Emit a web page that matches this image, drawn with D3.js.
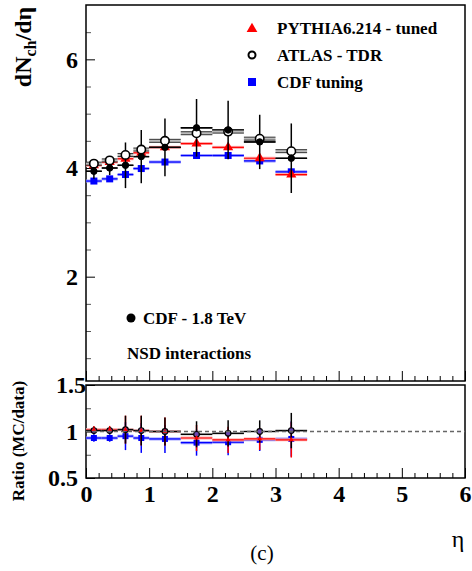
<!DOCTYPE html>
<html><head><meta charset="utf-8">
<script src="https://cdn.jsdelivr.net/npm/d3@7"></script>
<style>
body{margin:0;background:#fff;}
svg{display:block;}
</style></head>
<body><svg id="c" width="472" height="571"></svg>
<script>
// ---- data ----
const eta      = [0.125,0.375,0.625,0.875,1.25,1.75,2.25,2.75,3.25];
const etaHalf  = [0.125,0.125,0.125,0.125,0.25,0.25,0.25,0.25,0.25];
const cdfData  = [3.94,4.00,4.05,4.21,4.38,4.74,4.70,4.48,4.18];
const cdfErr   = [0.14,0.13,0.42,0.49,0.53,0.53,0.54,0.50,0.64];
const pythia   = [4.05,4.11,4.17,4.28,4.38,4.45,4.38,4.18,3.88];
const atlas    = [4.08,4.14,4.24,4.34,4.50,4.64,4.67,4.54,4.31];
const cdfTune  = [3.76,3.80,3.88,3.99,4.11,4.23,4.23,4.13,3.93];
const ratioAtlas  = [1.01,1.01,1.02,1.01,1.00,0.97,0.98,1.00,1.01];
const ratioPythia = [1.02,1.02,1.02,1.01,1.00,0.93,0.91,0.92,0.91];
const ratioTune   = [0.93,0.93,0.95,0.93,0.92,0.88,0.885,0.91,0.92];
const ratioErr    = [0.04,0.04,0.15,0.16,0.15,0.14,0.14,0.12,0.19];
const mainMajor = [2,4,6];
const mainMinor = [0.5,1,1.5,2.5,3,3.5,4.5,5,5.5,6.5];
const ratioMajor = [0.5,1,1.5];
const ratioMinor = [0.75,1.25];
const xMajor = [0,1,2,3,4,5,6];
const legendLabels = ["PYTHIA6.214 - tuned","ATLAS - TDR","CDF tuning"];

const FONT = "'Liberation Serif', 'Times New Roman', Times, serif";
const svg = d3.select("#c");
const x = d3.scaleLinear().domain([0,6]).range([86,465]);
const yM = d3.scaleLinear().domain([0.08,7]).range([381,5]);
const yR = d3.scaleLinear().domain([0.5,1.5]).range([478,385]);
const xMinor = d3.range(0,6.001,0.2).map(v=>+v.toFixed(1)).filter(v=>!xMajor.includes(v));

function styleTxt(sel, size, bold){
  sel.style("font-family",FONT).style("font-size",size+"px").style("font-weight",bold?"bold":"normal").attr("fill","#000");
  return sel;
}

function axes(y, bottom, major, minor, fmt){
  const g = svg.append("g");
  g.append("g").attr("transform",`translate(${x(0)},0)`)
    .call(d3.axisLeft(y).tickValues(minor).tickSize(-5).tickFormat(""))
    .call(s=>{s.select(".domain").remove(); s.selectAll("line").attr("stroke","#555");});
  const ma = g.append("g").attr("transform",`translate(${x(0)},0)`)
    .call(d3.axisLeft(y).tickValues(major).tickSize(-9).tickFormat(fmt).tickPadding(8))
    .call(s=>s.select(".domain").remove());
  styleTxt(ma.selectAll("text"), 24, true);
  g.append("g").attr("transform",`translate(0,${bottom})`)
    .call(d3.axisBottom(x).tickValues(xMinor).tickSize(-5).tickFormat(""))
    .call(s=>s.select(".domain").remove());
  const xa = g.append("g").attr("transform",`translate(0,${bottom})`)
    .call(d3.axisBottom(x).tickValues(xMajor).tickSize(-10).tickFormat(d3.format("d")).tickPadding(4))
    .call(s=>s.select(".domain").remove());
  return {ma, xa};
}

const mainAx = axes(yM, 381, mainMajor, mainMinor, d3.format("d"));
mainAx.xa.selectAll("text").remove();
const ratioAx = axes(yR, 478, ratioMajor, ratioMinor, d=>d===1?"1":d3.format(".1f")(d));
styleTxt(ratioAx.xa.selectAll("text"), 24, true).attr("dy","0.85em");
ratioAx.ma.selectAll("text").filter(d=>d===1.5).attr("x",0);

svg.append("rect").attr("x",x(0)).attr("y",yM.range()[1]).attr("width",x(6)-x(0)).attr("height",yM.range()[0]-yM.range()[1])
  .attr("fill","none").attr("stroke","#000").attr("stroke-width",1.5);
svg.append("rect").attr("x",x(0)).attr("y",yR.range()[1]).attr("width",x(6)-x(0)).attr("height",yR.range()[0]-yR.range()[1])
  .attr("fill","none").attr("stroke","#000").attr("stroke-width",1.5);

// ---- helpers ----
const tri = d3.symbol().type(d3.symbolTriangle);
function hband(g, y, vals, col, light, w){
  vals.forEach((v,i)=>{
    g.append("line").attr("x1",x(eta[i]-etaHalf[i])).attr("x2",x(eta[i]+etaHalf[i]))
      .attr("y1",y(v)).attr("y2",y(v)).attr("stroke",light).attr("stroke-width",w);
    g.append("line").attr("x1",x(eta[i]-etaHalf[i])).attr("x2",x(eta[i]+etaHalf[i]))
      .attr("y1",y(v)).attr("y2",y(v)).attr("stroke",col).attr("stroke-width",1.2);
  });
}
function vbars(g, y, vals, errs, col){
  vals.forEach((v,i)=>{
    g.append("line").attr("x1",x(eta[i])).attr("x2",x(eta[i]))
      .attr("y1",y(v-errs[i])).attr("y2",y(v+errs[i])).attr("stroke",col).attr("stroke-width",1.5);
  });
}
function squares(g,y,vals,s){
  g.selectAll(null).data(vals).enter().append("rect")
    .attr("x",(d,i)=>x(eta[i])-s/2).attr("y",d=>y(d)-s/2).attr("width",s).attr("height",s).attr("fill","#0000ff");
}
function tris(g,y,vals,size){
  g.selectAll(null).data(vals).enter().append("path").attr("d",tri.size(size)())
    .attr("transform",(d,i)=>`translate(${x(eta[i])},${y(d)})`).attr("fill","#ff0000");
}
function circles(g,y,vals,r,fill,sw){
  g.selectAll(null).data(vals).enter().append("circle")
    .attr("cx",(d,i)=>x(eta[i])).attr("cy",d=>y(d)).attr("r",r)
    .attr("fill",fill).attr("stroke","#000").attr("stroke-width",sw||1.5);
}

// ---- main panel ----
const gm = svg.append("g");
hband(gm, yM, cdfTune, "#0000ff", "#9a9aff", 3);
squares(gm, yM, cdfTune, 7);
hband(gm, yM, pythia, "#ff0000", "#ffaaaa", 3);
tris(gm, yM, pythia, 45);
vbars(gm, yM, cdfData, cdfErr, "#000");
hband(gm, yM, cdfData, "#000", "#000", 1.5);
atlas.forEach((v,i)=>{
  const x1 = x(eta[i]-etaHalf[i]), x2 = x(eta[i]+etaHalf[i]);
  gm.append("line").attr("x1",x1).attr("x2",x2).attr("y1",yM(v)).attr("y2",yM(v)).attr("stroke","#bbb").attr("stroke-width",3);
  gm.append("line").attr("x1",x1).attr("x2",x2).attr("y1",yM(v)-1.5).attr("y2",yM(v)-1.5).attr("stroke","#333").attr("stroke-width",1);
  gm.append("line").attr("x1",x1).attr("x2",x2).attr("y1",yM(v)+1.5).attr("y2",yM(v)+1.5).attr("stroke","#333").attr("stroke-width",1);
});
circles(gm, yM, atlas, 4.2, "#fff", 1.6);
circles(gm, yM, cdfData, 3.2, "#000", 1);

// ---- ratio panel ----
const gr = svg.append("g");
svg.append("line").attr("x1",x(0)).attr("x2",x(6)).attr("y1",yR(1)).attr("y2",yR(1))
  .attr("stroke","#666").attr("stroke-width",1.3).attr("stroke-dasharray","4,3");
vbars(gr, yR, ratioTune, ratioErr, "#0000ff");
hband(gr, yR, ratioTune, "#0000ff", "#9a9aff", 3);
squares(gr, yR, ratioTune, 6);
vbars(gr, yR, ratioPythia, ratioErr, "#ff0000");
hband(gr, yR, ratioPythia, "#ff0000", "#ffaaaa", 3);
vbars(gr, yR, ratioAtlas, ratioErr, "#000");
hband(gr, yR, ratioAtlas, "#000", "#999", 2);
circles(gr, yR, ratioAtlas, 2.8, "#6a48b0", 1.2);
tris(gr, yR, ratioPythia, 10);

// ---- legend ----
const lg = svg.append("g");
lg.append("path").attr("d",tri.size(50)()).attr("transform","translate(252,29)").attr("fill","#ff0000");
lg.append("circle").attr("cx",252).attr("cy",55).attr("r",3.5).attr("fill","#fff").attr("stroke","#000").attr("stroke-width",2);
lg.append("rect").attr("x",248).attr("y",78).attr("width",8).attr("height",8).attr("fill","#0000ff");
legendLabels.forEach((t,i)=>{
  styleTxt(lg.append("text").attr("x",277).attr("y",34+i*27).text(t), 17, true);
});
svg.append("circle").attr("cx",131).attr("cy",318).attr("r",4.5).attr("fill","#000");
styleTxt(svg.append("text").attr("x",143).attr("y",324).text("CDF - 1.8 TeV"), 17, true);
styleTxt(svg.append("text").attr("x",127).attr("y",359).text("NSD interactions"), 17, true);

// ---- axis titles ----
const yl = styleTxt(svg.append("text").attr("transform","translate(31,47) rotate(-90)").attr("text-anchor","middle"), 24, true);
yl.append("tspan").text("dN");
yl.append("tspan").style("font-size","16px").attr("dy",5).text("ch");
yl.append("tspan").attr("dy",-5).text("/dη");
styleTxt(svg.append("text").attr("transform","translate(24,441) rotate(-90)").attr("text-anchor","middle"), 17, true).text("Ratio (MC/data)");
styleTxt(svg.append("text").attr("x",458).attr("y",547).attr("text-anchor","middle"), 24, false).text("η");
styleTxt(svg.append("text").attr("x",262).attr("y",560).attr("text-anchor","middle"), 21, false).text("(c)");
</script></body></html>
